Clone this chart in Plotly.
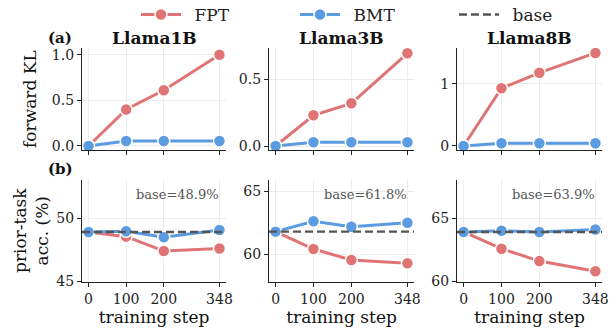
import plotly.graph_objects as go

steps = [0, 100, 200, 348]
models = ["Llama1B", "Llama3B", "Llama8B"]

kl_fpt = {"Llama1B": [0.0, 0.40, 0.61, 1.0],
          "Llama3B": [0.0, 0.23, 0.32, 0.695],
          "Llama8B": [0.0, 0.93, 1.18, 1.50]}
kl_bmt = {"Llama1B": [0.0, 0.055, 0.055, 0.055],
          "Llama3B": [0.0, 0.028, 0.028, 0.028],
          "Llama8B": [0.0, 0.043, 0.043, 0.043]}

acc_fpt = {"Llama1B": [48.9, 48.53, 47.4, 47.6],
           "Llama3B": [61.8, 60.42, 59.55, 59.29],
           "Llama8B": [63.9, 62.58, 61.6, 60.8]}
acc_bmt = {"Llama1B": [48.9, 48.95, 48.48, 49.05],
           "Llama3B": [61.8, 62.63, 62.19, 62.5],
           "Llama8B": [63.9, 64.0, 63.9, 64.1]}
acc_base = {"Llama1B": 48.9, "Llama3B": 61.8, "Llama8B": 63.9}

kl_ticks = {"Llama1B": ([0, 0.5, 1.0], ["0.0", "0.5", "1.0"]),
            "Llama3B": ([0, 0.5], ["0.0", "0.5"]),
            "Llama8B": ([0, 1], ["0", "1"])}
acc_ticks = {"Llama1B": [45, 50], "Llama3B": [60, 65], "Llama8B": [60, 65]}

kl_range = {"Llama1B": [-0.044, 1.073], "Llama3B": [-0.03, 0.735], "Llama8B": [-0.065, 1.58]}
acc_range = {"Llama1B": [44.95, 53.0], "Llama3B": [57.8, 65.9], "Llama8B": [59.95, 68.0]}

RED = "#E07474"
BLUE = "#5B9BE1"
GREY = "#555555"
FONT = "DejaVu Serif"
PAD = "\u2002"

W, H = 616, 329
xdoms = [(82, 226), (269, 414), (457, 602)]
ydom_top = (48, 150)
ydom_bot = (180, 282)

def dom_x(a, b):
    return [a / W, b / W]

def dom_y(t, b):
    return [1 - b / H, 1 - t / H]

fig = go.Figure()
xr = [-17.4, 365.4]

layout = dict(width=W, height=H, margin=dict(l=0, r=0, t=0, b=0, autoexpand=False),
              plot_bgcolor="white", paper_bgcolor="white",
              font=dict(family=FONT, size=14, color="#222"),
              showlegend=True,
              legend=dict(orientation="h", x=136 / W, xanchor="left", y=1 - 15 / H,
                          yanchor="middle", font=dict(size=17, family=FONT, color="#222"),
                          bgcolor="rgba(0,0,0,0)", itemwidth=40,
                          entrywidth=104, entrywidthmode="pixels"))

annotations = []
shapes = []

def axis_common():
    return dict(showline=True, linecolor="#222", linewidth=1.3, ticks="outside",
                ticklen=4, tickwidth=1.2, tickcolor="#222", showgrid=True,
                gridcolor="#ececec", gridwidth=1, zeroline=False, automargin=False,
                tickfont=dict(family=FONT, size=14, color="#222"))

def marker(c):
    return dict(size=12, color=c, line=dict(color="white", width=1.5))

for i, m in enumerate(models):
    # top row: forward KL
    k = 2 * i + 1
    xa = "x" if k == 1 else f"x{k}"
    ya = "y" if k == 1 else f"y{k}"
    first = i == 0
    fig.add_trace(go.Scatter(x=steps, y=kl_fpt[m], xaxis=xa, yaxis=ya, mode="lines+markers",
                             name=PAD + "FPT", legendgroup="FPT", showlegend=first, cliponaxis=False,
                             line=dict(color=RED, width=3), marker=marker(RED)))
    fig.add_trace(go.Scatter(x=steps, y=kl_bmt[m], xaxis=xa, yaxis=ya, mode="lines+markers",
                             name=PAD + "BMT", legendgroup="BMT", showlegend=first, cliponaxis=False,
                             line=dict(color=BLUE, width=3), marker=marker(BLUE)))
    ax = axis_common()
    ax.update(domain=dom_x(*xdoms[i]), range=xr, anchor=ya, tickvals=steps, showticklabels=False)
    layout["xaxis" if k == 1 else f"xaxis{k}"] = ax
    ay = axis_common()
    ay.update(domain=dom_y(*ydom_top), range=kl_range[m], anchor=xa,
              tickvals=kl_ticks[m][0], ticktext=kl_ticks[m][1])
    layout["yaxis" if k == 1 else f"yaxis{k}"] = ay
    annotations.append(dict(text=f"<b>{m}</b>", xref="paper", yref="paper",
                            x=(xdoms[i][0] + xdoms[i][1]) / 2 / W, y=1 - 38 / H,
                            showarrow=False, font=dict(size=17, family=FONT, color="#111"),
                            xanchor="center", yanchor="middle"))

    # bottom row: prior-task accuracy
    k2 = 2 * i + 2
    xa2 = f"x{k2}"
    ya2 = f"y{k2}"
    fig.add_trace(go.Scatter(x=steps, y=acc_fpt[m], xaxis=xa2, yaxis=ya2, mode="lines+markers",
                             name="FPT", legendgroup="FPT", showlegend=False, cliponaxis=False,
                             line=dict(color=RED, width=3), marker=marker(RED)))
    fig.add_trace(go.Scatter(x=steps, y=acc_bmt[m], xaxis=xa2, yaxis=ya2, mode="lines+markers",
                             name="BMT", legendgroup="BMT", showlegend=False, cliponaxis=False,
                             line=dict(color=BLUE, width=3), marker=marker(BLUE)))
    shapes.append(dict(type="line", xref=f"{xa2} domain", yref=ya2, x0=0, x1=1,
                       y0=acc_base[m], y1=acc_base[m],
                       line=dict(color=GREY, width=2.4, dash="8px,4px"), layer="above"))
    ax2 = axis_common()
    ax2.update(domain=dom_x(*xdoms[i]), range=xr, anchor=ya2, tickvals=steps,
               title=dict(text="training step", font=dict(size=17, family=FONT, color="#111"),
                          standoff=2))
    layout[f"xaxis{k2}"] = ax2
    ay2 = axis_common()
    ay2.update(domain=dom_y(*ydom_bot), range=acc_range[m], anchor=xa2, tickvals=acc_ticks[m])
    layout[f"yaxis{k2}"] = ay2
    annotations.append(dict(text=f"base={acc_base[m]:.1f}%", xref=f"{xa2} domain",
                            yref=f"{ya2} domain", x=0.965, y=0.853, showarrow=False,
                            xanchor="right", yanchor="middle",
                            font=dict(size=13, family=FONT, color="#555")))

# legend entry for base
fig.add_trace(go.Scatter(x=[None], y=[None], mode="lines", name=PAD + "base",
                         line=dict(color=GREY, width=2.4, dash="8px,4px")))

annotations.append(dict(text="<b>(a)</b>", xref="paper", yref="paper", x=60 / W, y=1 - 38 / H,
                        showarrow=False, font=dict(size=15, family=FONT, color="#111"),
                        xanchor="center", yanchor="middle"))
annotations.append(dict(text="<b>(b)</b>", xref="paper", yref="paper", x=60 / W, y=1 - 169 / H,
                        showarrow=False, font=dict(size=15, family=FONT, color="#111"),
                        xanchor="center", yanchor="middle"))
annotations.append(dict(text="forward KL", xref="paper", yref="paper", x=30 / W,
                        y=1 - 99 / H, textangle=-90, showarrow=False,
                        font=dict(size=17, family=FONT, color="#111"),
                        xanchor="center", yanchor="middle"))
annotations.append(dict(text="prior-task<br>acc. (%)", xref="paper", yref="paper", x=31 / W,
                        y=1 - 231 / H, textangle=-90, showarrow=False,
                        font=dict(size=17, family=FONT, color="#111"),
                        xanchor="center", yanchor="middle"))

layout["annotations"] = annotations
layout["shapes"] = shapes
fig.update_layout(**layout)
fig.write_html("out.html", config={"displayModeBar": False},
               post_script="document.body.style.margin='0';document.body.style.padding='0';")
